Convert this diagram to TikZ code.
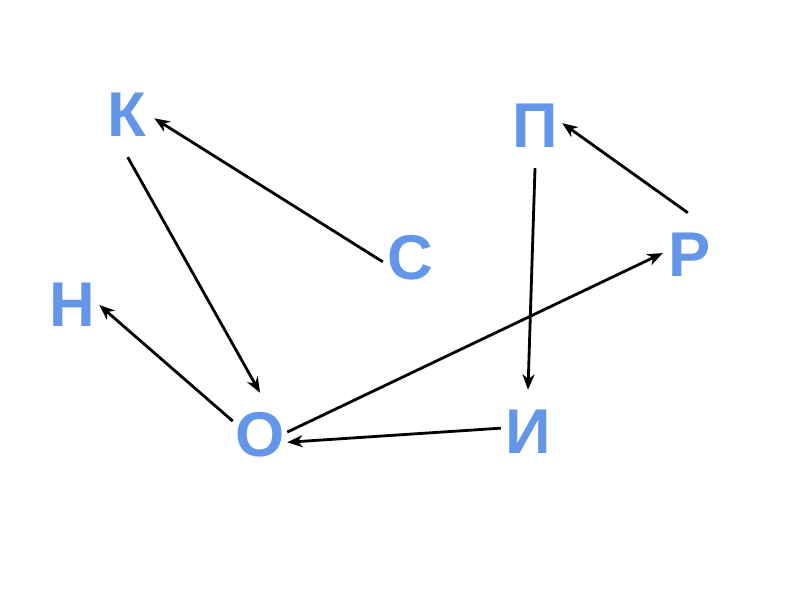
\documentclass[tikz,border=0pt]{standalone}
\usepackage{fontspec}
\setmainfont{Liberation Sans}
\usepackage{tikz}
\usetikzlibrary{arrows.meta,positioning}
\definecolor{LetterBlue}{RGB}{99,149,232}

\begin{document}
\begin{tikzpicture}[x=0.03cm, y=0.03cm,
    letter/.style={text=LetterBlue, font=\fontsize{54}{60}\selectfont\bfseries,
      inner sep=0pt, minimum width=1.62cm, minimum height=2.52cm},
    link/.style={-{Stealth[length=4.6mm,width=3.6mm,inset=1.4mm]}, line width=2.4pt, black}]
  \useasboundingbox (0,0) rectangle (800,600);
  \node[letter] (k) at (127,485) {К};
  \node[letter] (s) at (410,342) {С};
  \node[letter] (p) at (535,474) {П};
  \node[letter] (r) at (690,345) {Р};
  \node[letter] (n) at (72,295) {Н};
  \node[letter] (o) at (260,165) {О};
  \node[letter] (i) at (528,168) {И};
  % arrows between letters
  \draw[link] (s.188) -- (k.353);
  \draw[link] (k.271) -- (o.north);
  \draw[link] (o.153) -- (n.east);
  \draw[link] (i.172) -- (o.345);
  \draw[link] (o.6) -- (r.176);
  \draw[link] (p.south) -- (i.north);
  \draw[link] (r.93) -- (p.6);
\end{tikzpicture}
\end{document}
